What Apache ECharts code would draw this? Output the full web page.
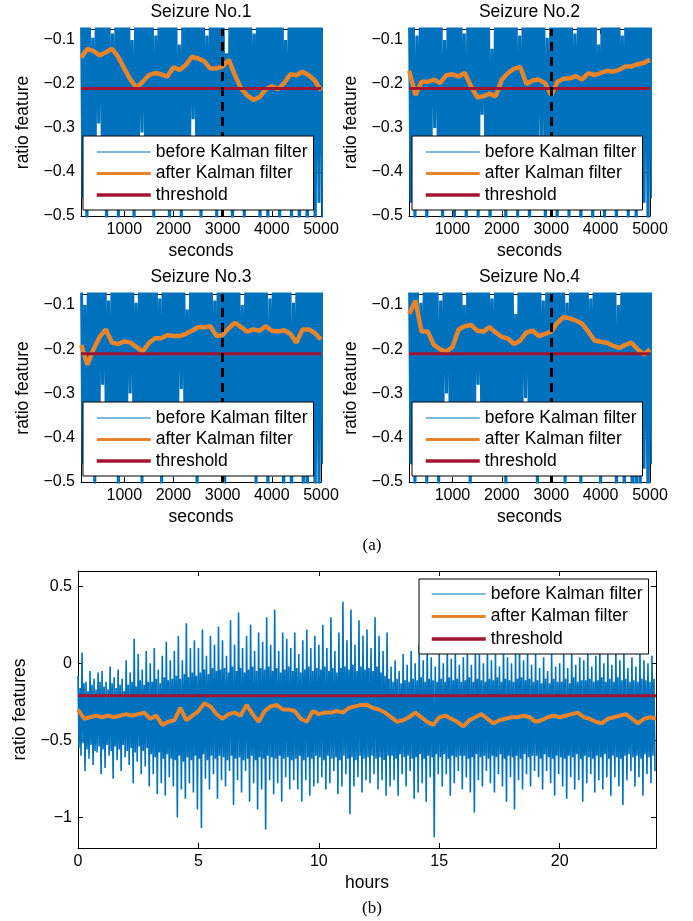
<!DOCTYPE html>
<html>
<head>
<meta charset="utf-8">
<title>ratio feature before / after Kalman filter</title>
<style>
  html, body { margin: 0; padding: 0; background: #fff; }
  #chart { width: 693px; height: 921px; }
</style>
</head>
<body>
<div id="chart"></div>
<script src="https://cdn.jsdelivr.net/npm/echarts@6/dist/echarts.min.js"></script>
<script>
// ---------------- data ----------------
const seizureTitles = ['Seizure No.1', 'Seizure No.2', 'Seizure No.3', 'Seizure No.4'];
const seriesNames = ['before Kalman filter', 'after Kalman filter', 'threshold'];
const threshold = -0.21;
const onsetSec = 3000;
const secRange = [120, 5000];
const secTicks = [1000, 2000, 3000, 4000, 5000];
const ratioRange = [-0.5, -0.075];
const ratioTicks = [-0.5, -0.4, -0.3, -0.2, -0.1];

// raw feature, one plotted sample every 40 s from 120 s
const rawStartSec = 120, rawStepSec = 40;
const rawNo1 = [
  0.10,-0.46, 0.12,-0.53, 0.08,-0.45, -0.095,-0.47, 0.10,-0.29, 0.14,-0.46, 0.09,-0.55, 0.11,-0.46, -0.085,-0.45, 0.10,-0.52,
  0.13,-0.47, 0.08,-0.46, 0.12,-0.45, -0.10,-0.53, 0.10,-0.46, 0.09,-0.31, 0.11,-0.47, 0.14,-0.46, 0.10,-0.51, -0.09,-0.45,
  0.12,-0.47, 0.09,-0.46, 0.10,-0.56, 0.13,-0.45, 0.08,-0.46, -0.11,-0.52, 0.11,-0.46, 0.10,-0.47, 0.12,-0.28, 0.09,-0.46,
  0.14,-0.54, 0.10,-0.45, -0.09,-0.47, 0.11,-0.46, 0.08,-0.51, 0.12,-0.46, 0.10,-0.47, -0.13,-0.45, 0.13,-0.56, 0.09,-0.46,
  0.10,-0.45, 0.12,-0.52, 0.08,-0.47, 0.11,-0.46, -0.085,-0.45, 0.14,-0.53, 0.10,-0.46, 0.09,-0.55, 0.12,-0.46, 0.10,-0.45,
  0.11,-0.52, 0.13,-0.46, -0.10,-0.47, 0.08,-0.54, 0.10,-0.46, 0.12,-0.58, 0.09,-0.47, 0.11,-0.60, 0.10,-0.46, 0.12,-0.55,
  0.10,-0.47, 0.09,-0.52
];
const rawNo2 = [
  0.11,-0.47, 0.09,-0.52, -0.09,-0.46, 0.12,-0.45, 0.10,-0.55, 0.08,-0.46, 0.13,-0.30, 0.10,-0.47, 0.12,-0.53, -0.10,-0.46,
  0.09,-0.45, 0.11,-0.51, 0.10,-0.46, 0.14,-0.47, -0.085,-0.54, 0.10,-0.46, 0.12,-0.45, 0.08,-0.52, 0.11,-0.27, 0.10,-0.46,
  0.13,-0.55, -0.12,-0.47, 0.09,-0.46, 0.12,-0.45, 0.10,-0.53, 0.11,-0.46, 0.08,-0.47, 0.12,-0.51, -0.09,-0.46, 0.10,-0.45,
  0.14,-0.56, 0.09,-0.46, 0.11,-0.47, 0.10,-0.32, 0.12,-0.52, -0.095,-0.46, 0.10,-0.45, 0.13,-0.54, 0.08,-0.46, 0.11,-0.47,
  0.10,-0.52, 0.12,-0.46, -0.085,-0.45, 0.09,-0.55, 0.11,-0.46, 0.10,-0.47, 0.13,-0.53, 0.10,-0.46, -0.11,-0.45, 0.12,-0.51,
  0.09,-0.47, 0.11,-0.46, 0.10,-0.56, 0.12,-0.45, -0.09,-0.47, 0.10,-0.52, 0.13,-0.46, 0.09,-0.54, 0.11,-0.46, 0.10,-0.47,
  0.12,-0.53, 0.10,-0.46
];
const rawNo3 = [
  0.10,-0.46, -0.10,-0.47, 0.11,-0.45, 0.09,-0.51, 0.13,-0.46, 0.10,-0.28, 0.12,-0.47, -0.09,-0.46, 0.08,-0.45, 0.11,-0.53,
  0.10,-0.46, 0.14,-0.47, 0.09,-0.30, 0.12,-0.46, -0.095,-0.45, 0.10,-0.52, 0.11,-0.46, 0.13,-0.47, 0.08,-0.46, 0.10,-0.45,
  -0.085,-0.51, 0.12,-0.46, 0.10,-0.47, 0.11,-0.46, 0.09,-0.45, 0.13,-0.29, 0.10,-0.46, -0.11,-0.47, 0.12,-0.46, 0.10,-0.52,
  0.11,-0.45, 0.08,-0.46, 0.14,-0.47, 0.10,-0.46, -0.09,-0.45, 0.12,-0.46, 0.09,-0.53, 0.11,-0.47, 0.10,-0.46, 0.13,-0.45,
  0.10,-0.46, -0.10,-0.47, 0.11,-0.46, 0.09,-0.45, 0.12,-0.52, 0.10,-0.46, 0.13,-0.47, 0.08,-0.54, -0.085,-0.46, 0.11,-0.45,
  0.10,-0.47, 0.12,-0.56, 0.09,-0.46, 0.11,-0.58, -0.095,-0.47, 0.10,-0.46, 0.13,-0.55, 0.10,-0.60, 0.12,-0.46, 0.09,-0.57,
  0.11,-0.52, 0.10,-0.46
];
const rawNo4 = [
  0.12,-0.46, 0.10,-0.53, 0.09,-0.47, -0.095,-0.46, 0.11,-0.52, 0.13,-0.45, 0.10,-0.46, 0.08,-0.51, -0.09,-0.47, 0.12,-0.30,
  0.10,-0.46, 0.11,-0.45, 0.09,-0.47, 0.13,-0.46, -0.10,-0.45, 0.10,-0.52, 0.12,-0.46, 0.08,-0.28, 0.11,-0.47, 0.10,-0.46,
  0.14,-0.45, -0.085,-0.46, 0.10,-0.47, 0.12,-0.46, 0.09,-0.51, 0.11,-0.45, 0.10,-0.46, -0.12,-0.47, 0.13,-0.46, 0.10,-0.31,
  0.11,-0.45, 0.09,-0.46, 0.12,-0.52, 0.10,-0.47, -0.09,-0.46, 0.11,-0.45, 0.13,-0.46, 0.10,-0.47, 0.08,-0.46, 0.12,-0.51,
  -0.095,-0.45, 0.10,-0.46, 0.11,-0.47, 0.09,-0.53, 0.12,-0.46, 0.10,-0.45, -0.085,-0.47, 0.13,-0.46, 0.10,-0.52, 0.11,-0.46,
  0.09,-0.45, 0.12,-0.47, 0.10,-0.55, -0.10,-0.46, 0.11,-0.58, 0.10,-0.47, 0.13,-0.60, 0.09,-0.62, 0.12,-0.56, 0.10,-0.47,
  0.11,-0.59, 0.10,-0.46
];

// Kalman output, one plotted sample every 125 s from 125 s
const kalStartSec = 125, kalStepSec = 125;
const kalNo1 = [
  -0.14,-0.12,-0.125,-0.135,-0.128,-0.12,-0.138,-0.165,-0.19,-0.208,
  -0.195,-0.18,-0.175,-0.178,-0.183,-0.162,-0.168,-0.157,-0.138,-0.142,
  -0.148,-0.165,-0.165,-0.16,-0.145,-0.18,-0.21,-0.226,-0.236,-0.23,
  -0.212,-0.205,-0.212,-0.198,-0.178,-0.18,-0.172,-0.18,-0.192,-0.215
];
const kalNo2 = [
  -0.17,-0.225,-0.195,-0.195,-0.19,-0.198,-0.18,-0.178,-0.183,-0.175,
  -0.205,-0.23,-0.228,-0.222,-0.228,-0.19,-0.175,-0.165,-0.162,-0.2,
  -0.192,-0.19,-0.198,-0.225,-0.195,-0.188,-0.187,-0.182,-0.19,-0.175,
  -0.18,-0.175,-0.17,-0.172,-0.168,-0.16,-0.16,-0.155,-0.152,-0.145
];
const kalNo3 = [
  -0.19,-0.235,-0.2,-0.172,-0.155,-0.185,-0.188,-0.182,-0.185,-0.195,
  -0.205,-0.186,-0.175,-0.175,-0.168,-0.17,-0.17,-0.165,-0.158,-0.15,
  -0.15,-0.148,-0.17,-0.168,-0.152,-0.14,-0.15,-0.16,-0.155,-0.158,
  -0.148,-0.158,-0.16,-0.157,-0.165,-0.185,-0.155,-0.155,-0.163,-0.178
];
const kalNo4 = [
  -0.12,-0.09,-0.16,-0.16,-0.19,-0.2,-0.205,-0.195,-0.155,-0.148,
  -0.145,-0.158,-0.16,-0.15,-0.162,-0.172,-0.176,-0.188,-0.18,-0.162,
  -0.158,-0.17,-0.165,-0.16,-0.14,-0.127,-0.13,-0.135,-0.142,-0.16,
  -0.18,-0.183,-0.185,-0.192,-0.197,-0.19,-0.185,-0.2,-0.212,-0.2
];
const rawSeizures = [rawNo1, rawNo2, rawNo3, rawNo4];
const kalSeizures = [kalNo1, kalNo2, kalNo3, kalNo4];

// 24 h recording
const hourRange = [0, 24];
const hourTicks = [0, 5, 10, 15, 20];
const featRange = [-1.2, 0.6];
const featTicks = [-1, -0.5, 0, 0.5];
const dayRawStepH = 1 / 24;   // raw feature, one plotted sample per 2.5 min (one row = 1 h)
const dayRaw = [
  -0.08,-0.55,-0.16,-0.60, 0.07,-0.52,-0.13,-0.70, -0.12,-0.56,-0.18,-0.62, -0.05,-0.53,-0.14,-0.66, -0.10,-0.57,-0.17,-0.58, -0.06,-0.54,-0.12,-0.72,
  -0.05,-0.56,-0.15,-0.68, -0.12,-0.53,-0.17,-0.60, -0.02,-0.57,-0.13,-0.75, -0.09,-0.54,-0.16,-0.63, -0.04,-0.56,-0.14,-0.70, -0.10,-0.53,-0.18,-0.61,
  0.02,-0.57,-0.14,-0.66, -0.06,-0.55,-0.12,-0.78, 0.16,-0.58,-0.15,-0.64, 0.06,-0.54,-0.11,-0.72, -0.04,-0.57,-0.14,-0.67, 0.08,-0.55,-0.12,-0.80,
  0.00,-0.59,-0.12,-0.72, 0.10,-0.61,-0.10,-0.85, -0.04,-0.58,-0.13,-0.78, 0.05,-0.62,-0.09,-0.86, 0.14,-0.59,-0.11,-0.74, 0.02,-0.62,-0.10,-0.80,
  0.08,-0.63,-0.08,-1.00, 0.18,-0.60,-0.10,-0.82, 0.02,-0.64,-0.07,-0.88, 0.26,-0.61,-0.09,-0.78, 0.10,-0.63,-0.06,-0.84, 0.15,-0.60,-0.08,-0.95,
  0.10,-0.62,-0.06,-1.07, 0.22,-0.59,-0.04,-0.75, 0.05,-0.63,-0.07,-0.82, 0.18,-0.60,-0.03,-0.72, 0.12,-0.62,-0.05,-0.88, 0.24,-0.60,-0.04,-0.76,
  0.15,-0.61,-0.03,-0.80, 0.05,-0.63,-0.06,-0.70, 0.28,-0.60,-0.02,-0.92, 0.12,-0.62,-0.05,-0.76, 0.33,-0.61,-0.03,-0.84, 0.10,-0.63,-0.06,-0.70,
  0.18,-0.62,-0.04,-0.90, 0.25,-0.60,-0.02,-0.78, 0.08,-0.63,-0.05,-0.95, 0.20,-0.61,-0.03,-0.82, 0.14,-0.62,-0.04,-1.08, 0.30,-0.60,-0.02,-0.76,
  0.12,-0.61,-0.05,-0.85, 0.35,-0.62,-0.03,-0.78, 0.08,-0.60,-0.06,-0.90, 0.20,-0.62,-0.04,-0.74, 0.16,-0.61,-0.02,-0.82, 0.10,-0.63,-0.05,-0.76,
  0.20,-0.62,-0.03,-0.82, 0.06,-0.60,-0.06,-0.90, 0.15,-0.63,-0.04,-0.76, 0.22,-0.61,-0.02,-0.86, 0.10,-0.62,-0.05,-0.80, 0.18,-0.60,-0.03,-0.78,
  0.12,-0.61,-0.04,-0.74, 0.25,-0.63,-0.02,-0.82, 0.10,-0.60,-0.05,-0.78, 0.30,-0.62,-0.03,-0.70, 0.08,-0.61,-0.06,-0.85, 0.20,-0.63,-0.03,-0.80,
  0.40,-0.60,-0.02,-0.72, 0.15,-0.62,-0.04,-0.98, 0.35,-0.61,-0.01,-0.80, 0.12,-0.63,-0.05,-0.74, 0.28,-0.60,-0.02,-0.84, 0.18,-0.62,-0.04,-0.76,
  0.22,-0.61,-0.03,-0.78, 0.10,-0.60,-0.05,-0.72, 0.30,-0.62,-0.02,-0.82, 0.18,-0.61,-0.06,-0.76, 0.08,-0.63,-0.08,-0.86, 0.20,-0.60,-0.10,-0.80,
  -0.02,-0.60,-0.12,-0.76, 0.02,-0.62,-0.10,-0.86, -0.05,-0.59,-0.13,-0.72, 0.06,-0.61,-0.11,-0.80, -0.01,-0.60,-0.12,-0.70, 0.08,-0.62,-0.10,-0.88,
  0.00,-0.61,-0.11,-0.84, 0.12,-0.59,-0.09,-0.78, 0.02,-0.62,-0.12,-0.90, 0.14,-0.60,-0.10,-0.74, 0.04,-0.61,-0.11,-1.13, -0.02,-0.59,-0.12,-0.72,
  0.08,-0.61,-0.10,-0.80, 0.00,-0.59,-0.12,-0.72, 0.12,-0.62,-0.09,-0.86, 0.03,-0.60,-0.11,-0.78, 0.10,-0.61,-0.10,-0.70, -0.01,-0.60,-0.12,-0.82,
  0.04,-0.60,-0.11,-0.74, 0.11,-0.62,-0.09,-0.84, -0.01,-0.61,-0.12,-0.97, 0.12,-0.59,-0.10,-0.76, 0.06,-0.61,-0.11,-0.80, 0.00,-0.60,-0.12,-0.70,
  0.10,-0.62,-0.10,-0.78, 0.02,-0.60,-0.11,-0.84, 0.08,-0.61,-0.09,-0.72, -0.02,-0.59,-0.12,-0.80, 0.13,-0.62,-0.10,-0.90, 0.04,-0.60,-0.11,-0.74,
  0.00,-0.61,-0.12,-0.95, 0.08,-0.60,-0.10,-0.76, 0.12,-0.62,-0.09,-0.82, 0.02,-0.59,-0.11,-0.72, 0.07,-0.61,-0.10,-0.80, -0.01,-0.60,-0.12,-0.70,
  0.06,-0.60,-0.11,-0.74, -0.03,-0.62,-0.13,-0.82, 0.04,-0.59,-0.10,-0.70, -0.05,-0.61,-0.13,-0.78, 0.07,-0.62,-0.10,-0.86, -0.02,-0.60,-0.12,-0.72,
  0.00,-0.61,-0.12,-0.80, 0.06,-0.62,-0.10,-0.88, -0.03,-0.60,-0.13,-0.74, 0.10,-0.61,-0.09,-0.82, -0.01,-0.59,-0.12,-0.76, 0.04,-0.62,-0.11,-0.90,
  0.02,-0.60,-0.11,-0.78, 0.08,-0.61,-0.10,-0.72, -0.02,-0.62,-0.12,-0.84, 0.05,-0.60,-0.11,-0.76, 0.10,-0.61,-0.09,-0.82, 0.00,-0.59,-0.12,-0.74,
  0.06,-0.62,-0.10,-0.86, -0.01,-0.60,-0.12,-0.74, 0.10,-0.61,-0.09,-0.80, 0.02,-0.62,-0.11,-0.92, 0.07,-0.60,-0.10,-0.76, -0.03,-0.59,-0.12,-0.70,
  0.04,-0.61,-0.11,-0.80, -0.02,-0.60,-0.12,-0.74, 0.08,-0.62,-0.10,-0.86, 0.02,-0.59,-0.11,-0.72, 0.00,-0.61,-0.12,-0.78, 0.05,-0.60,-0.10,-0.70
];
const dayKalStepH = 0.25;
const dayKal = [
  -0.30,-0.36,-0.35,-0.34, -0.35,-0.34,-0.35,-0.34, -0.33,-0.34,-0.33,-0.32,
  -0.36,-0.34,-0.40,-0.38, -0.37,-0.29,-0.37,-0.34, -0.31,-0.26,-0.28,-0.33,
  -0.36,-0.33,-0.32,-0.34, -0.27,-0.33,-0.38,-0.31, -0.28,-0.27,-0.30,-0.30,
  -0.31,-0.36,-0.38,-0.31, -0.33,-0.32,-0.32,-0.31, -0.32,-0.29,-0.28,-0.27,
  -0.27,-0.29,-0.30,-0.32, -0.35,-0.38,-0.37,-0.35, -0.32,-0.35,-0.38,-0.40,
  -0.35,-0.34,-0.36,-0.38, -0.41,-0.37,-0.35,-0.33, -0.36,-0.39,-0.37,-0.36,
  -0.35,-0.35,-0.34,-0.35, -0.38,-0.37,-0.35,-0.34, -0.35,-0.34,-0.33,-0.32,
  -0.35,-0.36,-0.38,-0.39, -0.36,-0.35,-0.34,-0.33, -0.36,-0.39,-0.36,-0.35,
  -0.36
];

// ---------------- styling ----------------
const BLUE = '#0072BD', ORANGE = '#E8852B', RED = '#A2142F';
const SANS = '"Liberation Sans", Arial, sans-serif';
const SERIF = '"Liberation Serif", "Times New Roman", serif';
const minus = v => String(v).replace('-', '\u2212');
const txt = { color: '#000', fontSize: 16, fontFamily: SANS };
const bigTxt = { color: '#000', fontSize: 17.5, fontFamily: SANS };

const grids = [
  { left: 81, top: 29, width: 240, height: 187 },
  { left: 409, top: 29, width: 241, height: 187 },
  { left: 81, top: 294, width: 240, height: 188 },
  { left: 409, top: 294, width: 241, height: 188 },
  { left: 78, top: 571, width: 578, height: 277 }
];
const legendPos = [
  { left: 83, top: 136 }, { left: 412, top: 136 },
  { left: 83, top: 402 }, { left: 412, top: 402 },
  { left: 419, top: 579 }
];

const xAxes = [], yAxes = [], series = [], legends = [];

function boxAxes(g, xr, xt, yr, yt, xName, yName, title) {
  const line = { show: true, onZero: false, lineStyle: { color: '#000', width: 1 } };
  const tick = t => ({ show: true, inside: true, length: 5, customValues: t, lineStyle: { color: '#000' } });
  xAxes.push({
    gridIndex: g, type: 'value', position: 'bottom', min: xr[0], max: xr[1],
    axisLine: line, axisTick: tick(xt), splitLine: { show: false },
    axisLabel: Object.assign({ customValues: xt, margin: 6, formatter: minus }, txt),
    name: xName, nameLocation: 'middle', nameGap: 26, nameTextStyle: bigTxt
  }, {
    gridIndex: g, type: 'value', position: 'top', min: xr[0], max: xr[1],
    axisLine: line, axisTick: tick(xt), splitLine: { show: false }, axisLabel: { show: false },
    name: title || '', nameLocation: 'middle', nameGap: 8, nameTextStyle: bigTxt
  });
  yAxes.push({
    gridIndex: g, type: 'value', position: 'left', min: yr[0], max: yr[1],
    axisLine: line, axisTick: tick(yt), splitLine: { show: false },
    axisLabel: Object.assign({ customValues: yt, margin: 6, formatter: minus }, txt),
    name: yName, nameLocation: 'middle', nameGap: g === 4 ? 47 : 49, nameTextStyle: bigTxt
  }, {
    gridIndex: g, type: 'value', position: 'right', min: yr[0], max: yr[1],
    axisLine: line, axisTick: tick(yt), splitLine: { show: false }, axisLabel: { show: false }
  });
}

function addLegend(g, rowGap, pad) {
  legends.push(Object.assign({
    orient: 'vertical', z: 20, backgroundColor: '#fff', borderColor: '#000', borderWidth: 1,
    borderRadius: 0, padding: pad, itemWidth: 54, itemHeight: 4, itemGap: rowGap,
    itemStyle: { opacity: 0 }, selectedMode: false,
    textStyle: Object.assign({ lineHeight: 17 }, bigTxt),
    data: [
      { name: seriesNames[0], lineStyle: { width: 1 } },
      { name: seriesNames[1], lineStyle: { width: 3 } },
      { name: seriesNames[2], lineStyle: { width: 3.5 } }
    ]
  }, legendPos[g]));
}

// four seizure panels
rawSeizures.forEach((raw, g) => {
  boxAxes(g, secRange, secTicks, ratioRange, ratioTicks, 'seconds', 'ratio feature', seizureTitles[g]);
  const common = { type: 'line', xAxisIndex: 2 * g, yAxisIndex: 2 * g, symbol: 'none', silent: true, animation: false };
  series.push(Object.assign({
    name: seriesNames[0], z: 2,
    lineStyle: { color: BLUE, width: 3 }, itemStyle: { color: BLUE },
    data: raw.map((v, i) => [rawStartSec + i * rawStepSec, v])
  }, common));
  series.push(Object.assign({
    name: seriesNames[1], z: 3,
    lineStyle: { color: ORANGE, width: 4.5 }, itemStyle: { color: ORANGE },
    data: kalSeizures[g].map((v, i) => [kalStartSec + i * kalStepSec, v]),
    markLine: {
      silent: true, symbol: ['none', 'none'], label: { show: false }, animation: false,
      lineStyle: { color: '#000', type: [9, 6], width: 3 },
      data: [{ xAxis: onsetSec }]
    }
  }, common));
  series.push(Object.assign({
    name: seriesNames[2], z: 4,
    lineStyle: { color: RED, width: 3 }, itemStyle: { color: RED },
    data: [[secRange[0], threshold], [secRange[1], threshold]]
  }, common));
  addLegend(g, 3.5, [7, 6, 6, 12]);
});

// 24 h panel
boxAxes(4, hourRange, hourTicks, featRange, featTicks, 'hours', 'ratio features', '');
const common5 = { type: 'line', xAxisIndex: 8, yAxisIndex: 8, symbol: 'none', silent: true, animation: false };
series.push(Object.assign({
  name: seriesNames[0], z: 2,
  lineStyle: { color: BLUE, width: 1.6 }, itemStyle: { color: BLUE },
  data: dayRaw.map((v, i) => [i * dayRawStepH, v])
}, common5));
series.push(Object.assign({
  name: seriesNames[1], z: 3,
  lineStyle: { color: ORANGE, width: 4 }, itemStyle: { color: ORANGE },
  data: dayKal.map((v, i) => [i * dayKalStepH, v])
}, common5));
series.push(Object.assign({
  name: seriesNames[2], z: 4,
  lineStyle: { color: RED, width: 3 }, itemStyle: { color: RED },
  data: [[hourRange[0], threshold], [hourRange[1], threshold]]
}, common5));
addLegend(4, 4.5, [6, 6, 6, 11]);

const chart = echarts.init(document.getElementById('chart'), null, { renderer: 'canvas' });
chart.setOption({
  backgroundColor: '#fff',
  animation: false,
  grid: grids,
  xAxis: xAxes,
  yAxis: yAxes,
  legend: legends,
  title: [
    { text: '(a)', left: 367, top: 532, textAlign: 'center', textStyle: { color: '#000', fontSize: 17, fontWeight: 'normal', fontFamily: SERIF } },
    { text: '(b)', left: 367, top: 895, textAlign: 'center', textStyle: { color: '#000', fontSize: 17, fontWeight: 'normal', fontFamily: SERIF } }
  ],
  series: series
});
</script>
</body>
</html>
